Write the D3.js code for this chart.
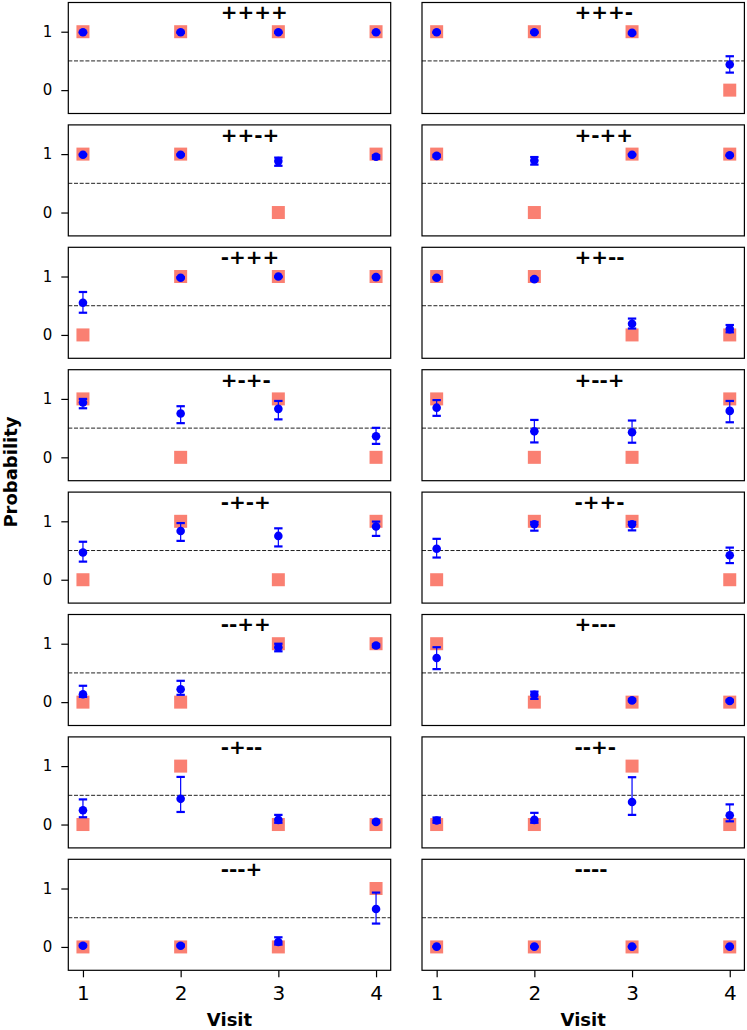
<!DOCTYPE html>
<html>
<head>
<meta charset="utf-8">
<script src="https://cdn.jsdelivr.net/npm/d3@7"></script>
<style>
  html, body { margin: 0; padding: 0; background: #fff; }
  svg { display: block; font-family: "DejaVu Sans", sans-serif; }
</style>
</head>
<body>
<svg id="chart" width="747" height="1030"></svg>
<script>
// ---------------- data ----------------
const visits = [1, 2, 3, 4];
const patterns = ["++++", "+++-", "++-+", "+-++", "-+++", "++--", "+-+-", "+--+",
                  "-+-+", "-++-", "--++", "+---", "-+--", "--+-", "---+", "----"];
const observed = [
  [1, 1, 1, 1], [1, 1, 1, 0], [1, 1, 0, 1], [1, 0, 1, 1],
  [0, 1, 1, 1], [1, 1, 0, 0], [1, 0, 1, 0], [1, 0, 0, 1],
  [0, 1, 0, 1], [0, 1, 1, 0], [0, 0, 1, 1], [1, 0, 0, 0],
  [0, 1, 0, 0], [0, 0, 1, 0], [0, 0, 0, 1], [0, 0, 0, 0]
];
const predMean = [
  [0.99, 0.99, 0.99, 0.99], [0.99, 0.99, 0.98, 0.44], [0.99, 0.99, 0.88, 0.955], [0.97, 0.89, 0.99, 0.98],
  [0.55, 0.98, 1.0, 0.99], [0.98, 0.955, 0.19, 0.10], [0.94, 0.75, 0.83, 0.36], [0.85, 0.445, 0.43, 0.795],
  [0.465, 0.835, 0.75, 0.91], [0.53, 0.95, 0.95, 0.42], [0.135, 0.22, 0.94, 0.97], [0.755, 0.125, 0.03, 0.02],
  [0.245, 0.44, 0.08, 0.045], [0.07, 0.08, 0.385, 0.16], [0.02, 0.02, 0.085, 0.65], [0.005, 0.005, 0.005, 0.005]
];
const predLow = [
  [0.98, 0.98, 0.98, 0.98], [0.98, 0.98, 0.96, 0.30], [0.98, 0.98, 0.80, 0.92], [0.95, 0.82, 0.98, 0.97],
  [0.38, 0.97, 0.99, 0.98], [0.97, 0.93, 0.11, 0.045], [0.84, 0.585, 0.65, 0.23], [0.71, 0.255, 0.25, 0.60],
  [0.31, 0.665, 0.57, 0.75], [0.38, 0.84, 0.845, 0.285], [0.09, 0.125, 0.87, 0.94], [0.565, 0.055, 0.015, 0.01],
  [0.125, 0.215, 0.03, 0.03], [0.03, 0.03, 0.165, 0.055], [0.01, 0.01, 0.04, 0.40], [0.0, 0.0, 0.0, 0.0]
];
const predHigh = [
  [1.0, 1.0, 1.0, 1.0], [1.0, 1.0, 0.99, 0.58], [1.0, 1.0, 0.94, 0.98], [0.99, 0.95, 1.0, 0.99],
  [0.735, 0.99, 1.0, 1.0], [0.99, 0.975, 0.28, 0.17], [1.0, 0.875, 0.965, 0.505], [0.98, 0.64, 0.63, 0.965],
  [0.65, 0.97, 0.88, 0.995], [0.70, 0.99, 0.99, 0.55], [0.28, 0.365, 1.0, 0.99], [0.94, 0.18, 0.05, 0.04],
  [0.43, 0.815, 0.165, 0.07], [0.12, 0.20, 0.81, 0.345], [0.04, 0.04, 0.165, 0.93], [0.01, 0.01, 0.01, 0.01]
];
const yTicks = [0, 1];
const xTicks = [1, 2, 3, 4];
const threshold = 0.5;
const xLabel = "Visit";
const yLabel = "Probability";

// ---------------- layout ----------------
const svg = d3.select("#chart");
svg.append("rect").attr("width", 747).attr("height", 1030).attr("fill", "#fff");

const colX = [68.3, 422];
const panelW = 322.4, panelH = 111, rowStep = 122.4, top0 = 2.5;
const nRows = 8;

patterns.forEach((pat, i) => {
  const col = i % 2, row = Math.floor(i / 2);
  const x0 = colX[col], y0 = top0 + row * rowStep;
  const x = d3.scaleLinear().domain([0.85, 4.15]).range([x0, x0 + panelW]);
  const y = d3.scaleLinear().domain([-0.4, 1.5]).range([y0 + panelH, y0]);
  const g = svg.append("g");

  // threshold line
  g.append("line")
    .attr("x1", x0).attr("x2", x0 + panelW)
    .attr("y1", y(threshold)).attr("y2", y(threshold))
    .attr("stroke", "#222").attr("stroke-width", 1)
    .attr("stroke-dasharray", "4,1.7");

  // observed squares
  g.selectAll("rect.obs").data(visits).enter().append("rect")
    .attr("class", "obs")
    .attr("x", (v) => x(v) - 6.5)
    .attr("y", (v, j) => y(observed[i][j]) - 6.5)
    .attr("width", 13).attr("height", 13)
    .attr("fill", "#FA8072");

  // error bars
  visits.forEach((v, j) => {
    const cx = x(v);
    g.append("line").attr("x1", cx).attr("x2", cx)
      .attr("y1", y(predLow[i][j])).attr("y2", y(predHigh[i][j]))
      .attr("stroke", "blue").attr("stroke-width", 1.2);
    [predLow[i][j], predHigh[i][j]].forEach(val => {
      g.append("line").attr("x1", cx - 4.2).attr("x2", cx + 4.2)
        .attr("y1", y(val)).attr("y2", y(val))
        .attr("stroke", "blue").attr("stroke-width", 2.2);
    });
  });

  // predicted dots
  g.selectAll("circle.pred").data(visits).enter().append("circle")
    .attr("class", "pred")
    .attr("cx", (v) => x(v))
    .attr("cy", (v, j) => y(predMean[i][j]))
    .attr("r", 4.3)
    .attr("fill", "blue");

  // title
  g.append("text")
    .attr("x", x(2.41)).attr("y", y(1.21))
    .attr("font-size", 20).attr("font-weight", "bold")
    .attr("fill", "#000")
    .text(pat);

  // y axis (left column)
  if (col === 0) {
    const ya = g.append("g").attr("transform", `translate(${x0},0)`)
      .call(d3.axisLeft(y).tickValues(yTicks).tickSize(7).tickPadding(9).tickFormat(d3.format("d")));
    ya.select(".domain").remove();
    ya.selectAll(".tick line").attr("stroke", "#000").attr("stroke-width", 1.2);
    ya.selectAll(".tick text").attr("font-size", 15).attr("fill", "#000")
      .attr("font-family", "DejaVu Sans");
  }
  // x axis (bottom row)
  if (row === nRows - 1) {
    const xa = g.append("g").attr("transform", `translate(0,${y0 + panelH})`)
      .call(d3.axisBottom(x).tickValues(xTicks).tickSize(7).tickPadding(9).tickFormat(d3.format("d")));
    xa.select(".domain").remove();
    xa.selectAll(".tick line").attr("stroke", "#000").attr("stroke-width", 1.2);
    xa.selectAll(".tick text").attr("font-size", 20).attr("fill", "#000")
      .attr("font-family", "DejaVu Sans");
    g.append("text")
      .attr("x", x0 + panelW / 2).attr("y", 1025.5)
      .attr("text-anchor", "middle")
      .attr("font-size", 18).attr("font-weight", "bold")
      .text(xLabel);
  }

  // frame
  g.append("rect")
    .attr("x", x0).attr("y", y0).attr("width", panelW).attr("height", panelH)
    .attr("fill", "none").attr("stroke", "#000").attr("stroke-width", 1.2);
});

svg.append("text")
  .attr("transform", "translate(17,472) rotate(-90)")
  .attr("text-anchor", "middle")
  .attr("font-size", 18).attr("font-weight", "bold")
  .text(yLabel);
</script>
</body>
</html>
